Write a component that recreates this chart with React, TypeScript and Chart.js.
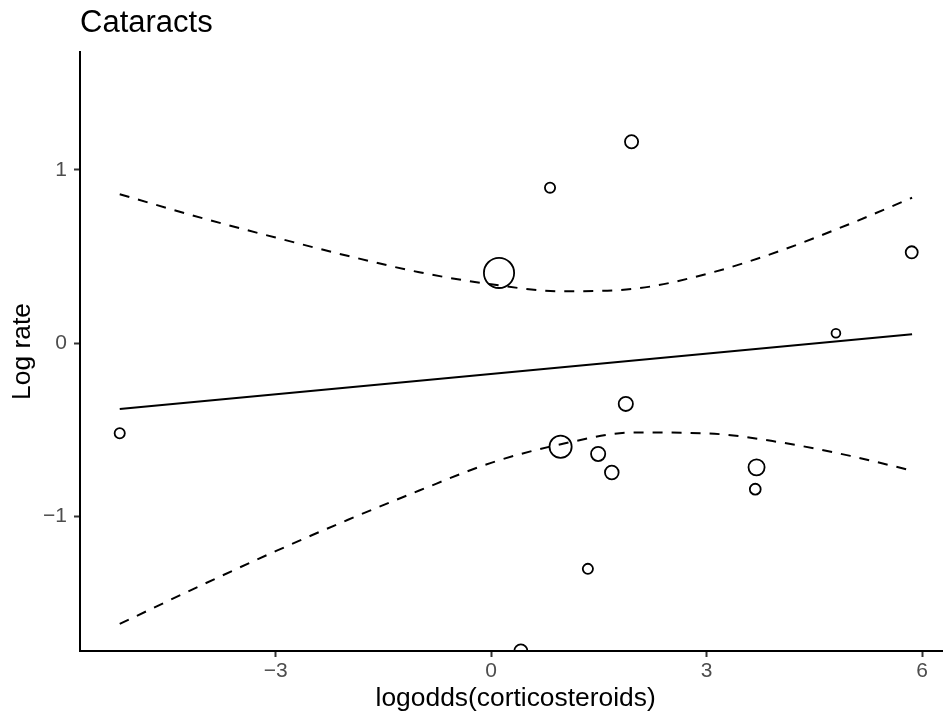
import React, { useEffect, useRef } from "react";
import { Chart, registerables } from "chart.js";

Chart.register(...registerables);

// ---- data ----
const studyX = [-5.17, 0.11, 0.82, 1.955, 5.855, 4.8, 1.875, 0.967, 1.49, 1.68, 3.695, 3.677, 1.347, 0.414];
const studyY = [-0.519, 0.406, 0.898, 1.163, 0.525, 0.058, -0.35, -0.597, -0.639, -0.746, -0.716, -0.842, -1.302, -1.776];
const studyWeights = [9, 64, 9, 14, 12, 7, 16, 36, 16, 15, 20, 10, 9, 14];

const fitX = [-5.17, 5.86];
const fitY = [-0.38, 0.052];

const bandX = [-5.17, -4, -3, -2, -1, 0, 1, 2, 3, 4, 5, 5.86];
const bandUpper = [0.86, 0.72, 0.61, 0.505, 0.41, 0.34, 0.3, 0.315, 0.4, 0.53, 0.69, 0.84];
const bandLower = [-1.62, -1.39, -1.2, -1.02, -0.85, -0.69, -0.58, -0.515, -0.52, -0.57, -0.65, -0.735];

const xTicks = [-3, 0, 3, 6];
const yTicks = [-1, 0, 1];

const titleText = "Cataracts";
const xTitle = "logodds(corticosteroids)";
const yTitle = "Log rate";

const FONT = '"Liberation Sans", Arial, Helvetica, sans-serif';

const fmt = (v: number) => (v < 0 ? "\u2212" + Math.abs(v) : String(v));

export default function App() {
  const ref = useRef<HTMLCanvasElement | null>(null);

  useEffect(() => {
    if (!ref.current) return;
    Chart.defaults.font.family = FONT;

    const titlePlugin = {
      id: "plotTitle",
      afterDraw(chart: any) {
        const ctx = chart.ctx;
        ctx.save();
        ctx.font = `31px ${FONT}`;
        ctx.fillStyle = "#000";
        ctx.textAlign = "left";
        ctx.textBaseline = "alphabetic";
        ctx.fillText(titleText, chart.chartArea.left, 32);
        ctx.restore();
      },
    };

    const pts = studyX.map((x, i) => ({ x, y: studyY[i] }));
    const radii = studyWeights.map((w) => 2 * Math.sqrt(w) - 0.9);

    const chart = new Chart(ref.current, {
      type: "scatter",
      data: {
        datasets: [
          {
            data: pts,
            showLine: false,
            pointRadius: radii,
            pointHoverRadius: radii,
            pointBorderWidth: 1.8,
            pointBorderColor: "#000",
            pointBackgroundColor: "rgba(0,0,0,0)",
          },
          {
            data: fitX.map((x, i) => ({ x, y: fitY[i] })),
            showLine: true,
            borderColor: "#000",
            borderWidth: 2,
            pointRadius: 0,
          },
          {
            data: bandX.map((x, i) => ({ x, y: bandUpper[i] })),
            showLine: true,
            borderColor: "#000",
            borderWidth: 2,
            borderDash: [10, 9],
            pointRadius: 0,
            cubicInterpolationMode: "monotone",
          },
          {
            data: bandX.map((x, i) => ({ x, y: bandLower[i] })),
            showLine: true,
            borderColor: "#000",
            borderWidth: 2,
            borderDash: [10, 9],
            pointRadius: 0,
            cubicInterpolationMode: "monotone",
          },
        ],
      },
      options: {
        responsive: true,
        maintainAspectRatio: false,
        animation: false,
        events: [],
        layout: { autoPadding: false, padding: { left: 0, top: 52, right: 8.7, bottom: 0 } },
        plugins: {
          legend: { display: false },
          tooltip: { enabled: false },
          title: { display: false },
        },
        scales: {
          x: {
            type: "linear",
            min: -5.723,
            max: 6.406,
            afterBuildTicks: (s: any) => {
              s.ticks = xTicks.map((v) => ({ value: v }));
            },
            afterFit: (s: any) => {
              s.height = 71;
              s.paddingLeft = 0;
              s.paddingRight = 0;
            },
            ticks: {
              callback: (v: any) => fmt(Number(v)),
              color: "#4D4D4D",
              font: { size: 21, family: FONT },
              padding: 2,
              maxRotation: 0,
            },
            grid: {
              display: true,
              drawOnChartArea: false,
              drawTicks: true,
              tickLength: 6,
              tickColor: "#333333",
              tickWidth: 2,
            },
            border: { display: true, color: "#000", width: 2 },
            title: {
              display: true,
              text: xTitle,
              color: "#000",
              font: { size: 26.4, family: FONT },
              padding: { top: 0, bottom: 7.2 },
            },
          },
          y: {
            type: "linear",
            min: -1.776,
            max: 1.681,
            afterBuildTicks: (s: any) => {
              s.ticks = yTicks.map((v) => ({ value: v }));
            },
            afterFit: (s: any) => {
              s.width = 80;
              s.paddingTop = 0;
              s.paddingBottom = 0;
            },
            ticks: {
              callback: (v: any) => fmt(Number(v)),
              color: "#4D4D4D",
              font: { size: 21, family: FONT },
              padding: 7,
            },
            grid: {
              display: true,
              drawOnChartArea: false,
              drawTicks: true,
              tickLength: 6,
              tickColor: "#333333",
              tickWidth: 2,
            },
            border: { display: true, color: "#000", width: 2 },
            title: {
              display: true,
              text: yTitle,
              color: "#000",
              font: { size: 26.4, family: FONT },
              padding: { top: 7, bottom: 0 },
            },
          },
        },
      },
      plugins: [titlePlugin],
    } as any);

    return () => chart.destroy();
  }, []);

  return (
    <div
      style={{
        position: "fixed",
        left: 0,
        top: 0,
        width: 943,
        height: 722,
        overflow: "hidden",
        background: "#fff",
      }}
    >
      <div style={{ position: "relative", width: 960, height: 722 }}>
        <canvas ref={ref} />
      </div>
    </div>
  );
}
